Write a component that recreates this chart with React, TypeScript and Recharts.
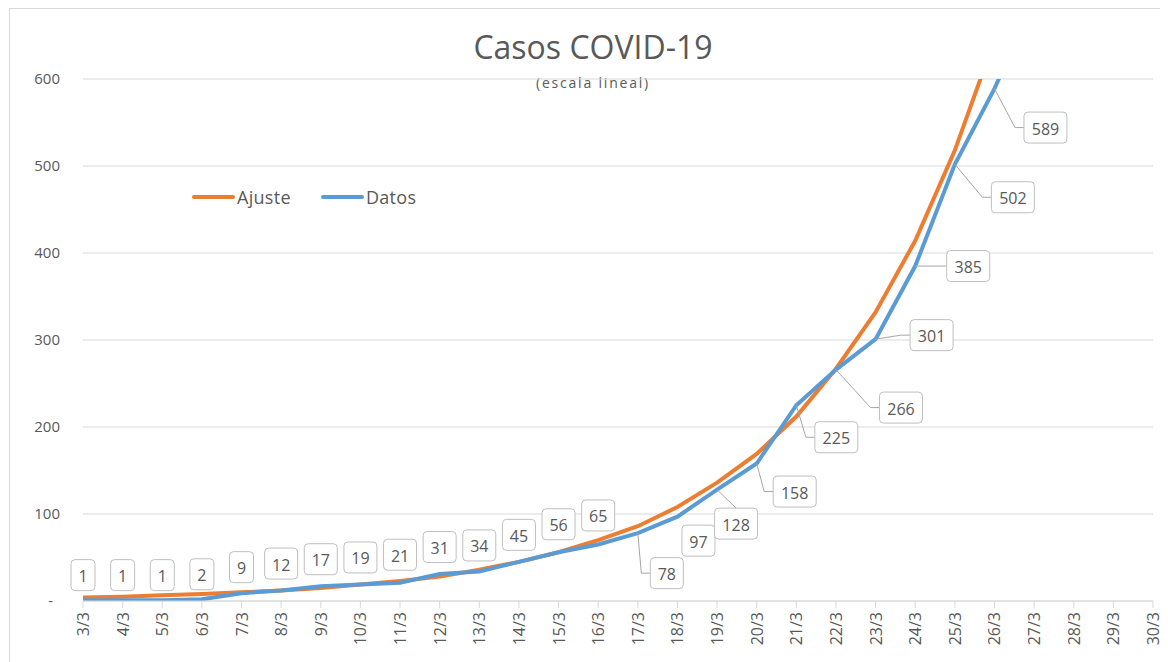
import React from 'react';
import { LineChart, Line, XAxis, YAxis, CartesianGrid, Legend, LabelList } from 'recharts';

const categories = ['3/3','4/3','5/3','6/3','7/3','8/3','9/3','10/3','11/3','12/3','13/3','14/3','15/3','16/3','17/3','18/3','19/3','20/3','21/3','22/3','23/3','24/3','25/3','26/3','27/3','28/3','29/3','30/3'];
const datos = [1,1,1,2,9,12,17,19,21,31,34,45,56,65,78,97,128,158,225,266,301,385,502,589,690];
const ajuste = [4,5,6.5,8,10,12,15,19,23,28,36,45,56,70,86,108,136,169,212,267,332,414,518,645];
const yTicks = [0,100,200,300,400,500,600];
const yMax = 600;

// label box placement relative to its point (annotation layout, not data)
const labelDx = [0,0,0,0,0,0,0,0,0,0,0,0,0,0,29,21,19,38,40,65,56,53,58,51];
const labelDy = [-25,-25,-25,-25,-26,-27,-27,-27,-28,-27,-26,-27,-28,-29,40,24,34,28,32,38,-4,0,33,39];
const leaderKind = ['n','n','n','n','n','n','n','n','n','n','n','n','n','n','e','n','t','e','e','e','e','e','e','e'];

const FONT = '"Open Sans", "Noto Sans", sans-serif';
const TXT = '#595959';

const data = categories.map((c, i) => ({
  cat: c,
  Ajuste: i < ajuste.length ? ajuste[i] : null,
  Datos: i < datos.length ? datos[i] : null,
}));

function DataLabel(props: any) {
  const { x, y, value, index } = props;
  if (value == null || x == null || y == null) return null;
  if (value > yMax) return null;
  const dx = labelDx[index] ?? 0;
  const dy = labelDy[index] ?? -26;
  const kind = leaderKind[index] ?? 'n';
  const cx = x + dx;
  const cy = y + dy;
  const len = String(value).length;
  const w = len === 1 ? 24 : len === 2 ? 33 : 43;
  const h = 31;
  const left = cx - w / 2;
  const top = cy - h / 2;
  let leader: React.ReactNode = null;
  if (kind === 'e') {
    leader = <path d={`M${x},${y} L${left - 9},${cy} L${left},${cy}`} fill="none" stroke="#a6a6a6" strokeWidth={1} />;
  } else if (kind === 't') {
    leader = <path d={`M${x},${y} L${cx},${top}`} fill="none" stroke="#a6a6a6" strokeWidth={1} />;
  }
  return (
    <g>
      {leader}
      <rect x={left} y={top} width={w} height={h} rx={4} ry={4} fill="#ffffff" stroke="#bfbfbf" strokeWidth={1} />
      <text x={cx} y={cy + 1} textAnchor="middle" dominantBaseline="central" fontSize={16} fill={TXT} style={{ fontFamily: FONT }}>
        {value}
      </text>
    </g>
  );
}

function XTick(props: any) {
  const { x, y, payload } = props;
  return (
    <text x={x} y={y} transform={`rotate(-90 ${x} ${y})`} textAnchor="end" dominantBaseline="central" fontSize={16} fill={TXT} style={{ fontFamily: FONT }}>
      {payload.value}
    </text>
  );
}

function YTick(props: any) {
  const { y, payload } = props;
  const v = payload.value;
  return (
    <text x={v === 0 ? 45 : 52} y={y - 1} textAnchor="end" dominantBaseline="central" fontSize={15} fill={TXT} style={{ fontFamily: FONT }}>
      {v === 0 ? '-' : v}
    </text>
  );
}

function LegendContent(props: any) {
  const items = props.payload || [];
  return (
    <div style={{ display: 'flex', alignItems: 'center', fontFamily: FONT, fontSize: 18, color: TXT, letterSpacing: 0.3, whiteSpace: 'nowrap' }}>
      {items.map((it: any, i: number) => (
        <div key={i} style={{ display: 'flex', alignItems: 'center', marginRight: i === 0 ? 30 : 0 }}>
          <div style={{ width: 43, height: 4, background: it.color, borderRadius: 2, marginRight: 2 }} />
          <span>{it.value}</span>
        </div>
      ))}
    </div>
  );
}

export default function App() {
  return (
    <div style={{ position: 'relative', width: 1160, height: 654, background: '#ffffff' }}>
      <svg width={1160} height={654} style={{ position: 'absolute', left: 0, top: 0 }}>
        <rect x={1.5} y={0.5} width={1200} height={700} fill="#ffffff" stroke="#d9d9d9" strokeWidth={1} />
        <text x={585} y={51} textAnchor="middle" fontSize={32} fill={TXT} style={{ fontFamily: FONT }}>Casos COVID-19</text>
        <text x={585} y={80} textAnchor="middle" fontSize={14} fill={TXT} letterSpacing={1.8} style={{ fontFamily: FONT }}>(escala lineal)</text>
      </svg>
      <div style={{ position: 'absolute', left: 0, top: 0 }}>
        <LineChart width={1160} height={654} data={data} margin={{ top: 71, right: 15, left: 0, bottom: 11 }}>
          <CartesianGrid vertical={false} stroke="#d9d9d9" strokeWidth={1} />
          <XAxis dataKey="cat" interval={0} height={50} axisLine={{ stroke: '#d9d9d9' }} tickLine={{ stroke: '#d9d9d9' }} tickSize={7} tickMargin={4} tick={<XTick />} />
          <YAxis domain={[0, yMax]} ticks={yTicks} allowDataOverflow width={75} axisLine={false} tickLine={false} tick={<YTick />} />
          <Legend layout="horizontal" verticalAlign="middle" align="center" content={<LegendContent />} wrapperStyle={{ position: 'absolute', left: 184, top: 177, width: 'auto', height: 'auto' }} />
          <Line type="linear" dataKey="Ajuste" stroke="#ED7D31" strokeWidth={4} dot={false} activeDot={false} isAnimationActive={false} connectNulls={false} />
          <Line type="linear" dataKey="Datos" stroke="#5B9BD5" strokeWidth={4} dot={false} activeDot={false} isAnimationActive={false} connectNulls={false}>
            <LabelList dataKey="Datos" content={(p: any) => <DataLabel {...p} />} />
          </Line>
        </LineChart>
      </div>
    </div>
  );
}
